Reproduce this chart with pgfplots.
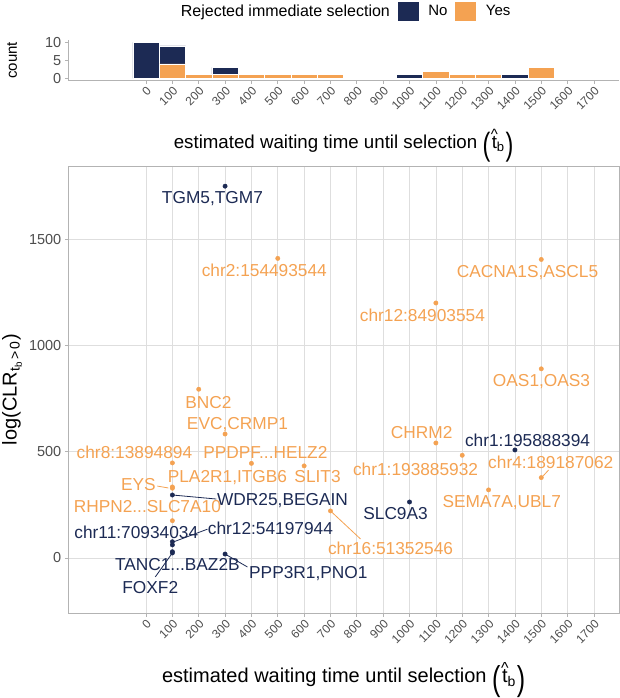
\documentclass[border=0pt]{standalone}
\usepackage{amsmath}
\usepackage{graphicx}
\usepackage{pgfplots}
\pgfplotsset{compat=1.18}
\usepackage{fontspec}
\setmainfont{Liberation Sans}
\definecolor{navy}{RGB}{28,42,84}
\definecolor{orng}{RGB}{244,162,82}
\definecolor{gridc}{RGB}{222,222,222}
\definecolor{borderc}{RGB}{179,179,179}
\definecolor{tickc}{RGB}{77,77,77}
\newcommand{\fs}[1]{\fontsize{#1}{#1}\selectfont}
\newcommand{\tbhat}{\raisebox{-0.38em}{\scalebox{1.25}[1.72]{(}}\kern0.08em\ooalign{t\cr\hidewidth\raisebox{0.48em}{\scalebox{0.8}{\textasciicircum}}\hidewidth\cr}\textsubscript{b}\kern0.05em\raisebox{-0.38em}{\scalebox{1.25}[1.72]{)}}}
\tikzset{lbl/.style={font=\fs{17.3}, inner sep=0pt, anchor=center, text height=12.4pt, text depth=0pt}}
\begin{document}
\begin{tikzpicture}
\path[use as bounding box] (0pt,0pt) rectangle (619pt,698pt);

% ---------------- scatter ----------------
\begin{axis}[
  at={(68.3pt,84.7pt)}, anchor=south west,
  scale only axis, width=550.7pt, height=447.3pt,
  xmin=-295, xmax=1795, ymin=-261, ymax=1845,
  xtick={0,100,...,1700}, ytick={0,500,1000,1500},
  grid=major, major grid style={gridc, line width=0.7pt},
  axis line style={borderc, line width=0.8pt},
  tick style={borderc, line width=0.7pt},
  tick align=outside, major tick length=3.5pt,
  xtick pos=bottom, ytick pos=left,
  /pgf/number format/assume math mode=true,
  /pgf/number format/1000 sep={},
  scaled ticks=false,
  x tick label style={rotate=45, anchor=north east, font=\fs{12}, color=tickc, inner sep=1.5pt},
  y tick label style={font=\fs{14.5}, color=tickc},
  clip=false,
  xlabel={estimated waiting time until selection \tbhat},
  xlabel style={font=\fs{20}, at={(axis description cs:0.5,-0.1558)}, anchor=base},
  ylabel={log(CLR\textsubscript{t\textsubscript{b}\,>\,0})},
  ylabel style={font=\fs{20}, at={(axis description cs:-0.1022,0.5)}, anchor=center},
]
% connector lines
\draw[orng, line width=0.8pt] (axis cs:43,338) -- (axis cs:85,329);
\draw[orng, line width=0.8pt] (axis cs:700,221) -- (axis cs:814,89);
\draw[orng, line width=0.8pt] (axis cs:1500,376) -- (axis cs:1528,414);
\draw[navy, line width=0.8pt] (axis cs:100,296) -- (axis cs:267,277);
\draw[navy, line width=0.8pt] (axis cs:233,135) -- (axis cs:104,75);
\draw[navy, line width=0.8pt] (axis cs:35,-90) -- (axis cs:100,23);
\draw[navy, line width=0.8pt] (axis cs:300,18) -- (axis cs:385,-43);

\addplot[only marks, mark=*, mark size=2.2pt, color=orng] coordinates {
(500,1410) (1500,1405) (1100,1200) (1500,890) (200,794) (300,583)
(100,447) (400,445) (600,433) (100,328) (100,334) (100,175)
(700,221) (1100,541) (1200,483) (1500,378) (1300,320)};
\addplot[only marks, mark=*, mark size=2.2pt, color=navy] coordinates {
(300,1750) (100,296) (100,76) (100,61) (100,29) (100,23) (300,18) (1000,263) (1400,508)};

% labels
\node[lbl, navy] at (axis cs:252,1696) {TGM5,TGM7};
\node[lbl, navy] at (axis cs:518,277) {WDR25,BEGAIN};
\node[lbl, navy] at (axis cs:-37,122) {chr11:70934034};
\node[lbl, navy] at (axis cs:472,141) {chr12:54197944};
\node[lbl, navy] at (axis cs:119,-29) {TANC1...BAZ2B};
\node[lbl, navy] at (axis cs:16,-137) {FOXF2};
\node[lbl, navy] at (axis cs:616,-66) {PPP3R1,PNO1};
\node[lbl, navy] at (axis cs:947,211) {SLC9A3};
\node[lbl, navy] at (axis cs:1448,555) {chr1:195888394};

\node[lbl, orng] at (axis cs:449,1355) {chr2:154493544};
\node[lbl, orng] at (axis cs:1448,1351) {CACNA1S,ASCL5};
\node[lbl, orng] at (axis cs:1049,1144) {chr12:84903554};
\node[lbl, orng] at (axis cs:1501,838) {OAS1,OAS3};
\node[lbl, orng] at (axis cs:237,734) {BNC2};
\node[lbl, orng] at (axis cs:347,635) {EVC,CRMP1};
\node[lbl, orng] at (axis cs:-44,499) {chr8:13894894};
\node[lbl, orng] at (axis cs:453,499) {PPDPF...HELZ2};
\node[lbl, orng] at (axis cs:309,386) {PLA2R1,ITGB6};
\node[lbl, orng] at (axis cs:651,386) {SLIT3};
\node[lbl, orng] at (axis cs:-29,344) {EYS};
\node[lbl, orng] at (axis cs:5,244) {RHPN2...SLC7A10};
\node[lbl, orng] at (axis cs:928,46) {chr16:51352546};
\node[lbl, orng] at (axis cs:1046,593) {CHRM2};
\node[lbl, orng] at (axis cs:1023,419) {chr1:193885932};
\node[lbl, orng] at (axis cs:1536,452) {chr4:189187062};
\node[lbl, orng] at (axis cs:1350,264) {SEMA7A,UBL7};
\end{axis}

% ---------------- histogram ----------------
\begin{axis}[
  at={(68.3pt,617.9pt)}, anchor=south west,
  scale only axis, width=550.7pt, height=39.6pt,
  xmin=-295, xmax=1795, ymin=-0.5, ymax=10.5,
  ybar stacked, bar width=100, bar shift=0pt,
  axis x line*=bottom, axis y line*=left,
  axis line style={borderc, line width=0.8pt, -},
  tick style={borderc, line width=0.7pt},
  tick align=outside, major tick length=3.5pt,
  xtick={0,100,...,1700}, ytick={0,5,10},
  /pgf/number format/assume math mode=true,
  /pgf/number format/1000 sep={},
  scaled ticks=false,
  x tick label style={rotate=45, anchor=north east, font=\fs{12}, color=tickc, inner sep=1.5pt},
  y tick label style={font=\fs{14.5}, color=tickc},
  xlabel={estimated waiting time until selection \tbhat},
  xlabel style={font=\fs{18.7}, at={(axis description cs:0.5,-1.722)}, anchor=base},
  ylabel={count},
  ylabel style={font=\fs{15}, at={(axis description cs:-0.1022,0.5)}, anchor=center},
  legend columns=-1,
  legend style={draw=none, fill=none, at={(axis description cs:0.4945,1.745)}, anchor=center,
    font=\fs{15}, nodes={inner sep=0pt},
    /tikz/every even column/.append style={column sep=8pt},
    /tikz/every odd column/.append style={column sep=10pt}},
]
\addplot[fill=orng, draw=white, line width=0.6pt, forget plot] coordinates {
(0,0) (100,4) (200,1) (300,1) (400,1) (500,1) (600,1) (700,1) (800,0) (900,0)
(1000,0) (1100,2) (1200,1) (1300,1) (1400,0) (1500,3)};
\addplot[fill=navy, draw=white, line width=0.6pt, forget plot] coordinates {
(0,10) (100,5) (200,0) (300,2) (400,0) (500,0) (600,0) (700,0) (800,0) (900,0)
(1000,1) (1100,0) (1200,0) (1300,0) (1400,1) (1500,0)};
\addlegendimage{empty legend}
\addlegendentry{\fs{16}Rejected immediate selection}
\addlegendimage{legend image code/.code={\fill[navy] (0pt,-9pt) rectangle (20pt,9pt);}}
\addlegendentry{No}
\addlegendimage{legend image code/.code={\fill[orng] (0pt,-9pt) rectangle (20pt,9pt);}}
\addlegendentry{Yes}
\end{axis}
\end{tikzpicture}
\end{document}
